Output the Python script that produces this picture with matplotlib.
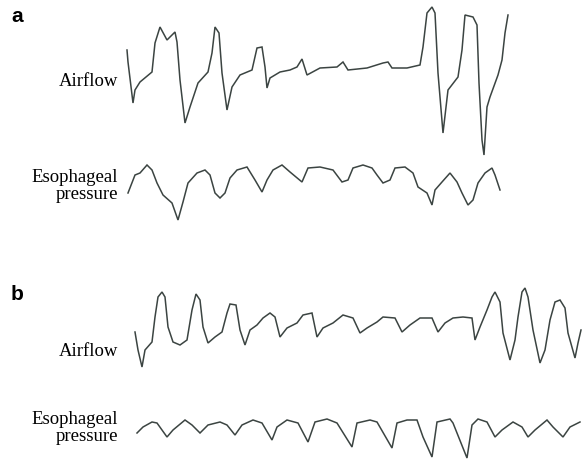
import matplotlib
matplotlib.use("Agg")
import matplotlib.pyplot as plt

# Panel a: airflow trace (time, deflection)
airflow_a_t = [127, 128, 133, 135, 140, 152, 155, 160, 167, 175, 177, 180, 185, 190, 198, 208, 212, 215,
               219, 222, 227, 232, 240, 252, 257, 262, 265, 267, 270, 280, 290, 297, 302, 307, 320,
               337, 343, 348, 367, 383, 388, 392, 407, 420, 423, 427, 432, 435, 438, 443, 448, 458,
               462, 465, 473, 477, 479, 482, 484, 487, 490, 498, 502, 505, 508]
airflow_a_v = [50, 62, 103, 90, 82, 72, 43, 27, 40, 32, 42, 80, 123, 107, 83, 72, 53, 27,
               33, 73, 110, 87, 75, 70, 48, 47, 67, 88, 78, 72, 70, 67, 59, 75, 68,
               67, 62, 70, 68, 63, 62, 68, 68, 65, 47, 13, 7, 13, 73, 133, 90, 77,
               50, 15, 17, 25, 83, 140, 155, 107, 97, 75, 60, 33, 15]

# Panel a: esophageal pressure trace
esoph_a_t = [128, 135, 140, 147, 152, 157, 163, 172, 178, 183, 188, 197, 205, 210, 215, 220, 225,
             230, 237, 247, 255, 262, 267, 273, 282, 290, 302, 308, 320, 333, 342, 348, 353, 363,
             372, 377, 383, 390, 395, 405, 413, 418, 427, 432, 435, 442, 450, 457, 462, 468, 473,
             478, 485, 492, 495, 500]
esoph_a_v = [193, 175, 173, 165, 170, 183, 195, 203, 220, 202, 183, 173, 170, 175, 193, 198, 193,
             178, 170, 167, 180, 192, 180, 170, 165, 172, 182, 168, 167, 170, 182, 180, 168, 165,
             168, 175, 183, 180, 168, 167, 173, 187, 193, 205, 190, 182, 173, 182, 193, 205, 200,
             183, 173, 168, 175, 190]

# Panel b: airflow trace
airflow_b_t = [135, 138, 142, 145, 152, 155, 158, 162, 165, 168, 173, 180, 187, 192, 196, 200, 203,
               208, 215, 222, 227, 230, 236, 240, 245, 250, 257, 263, 270, 275, 280, 287, 297, 303,
               312, 317, 323, 333, 343, 353, 360, 367, 377, 383, 395, 402, 410, 420, 432, 438, 445,
               453, 463, 472, 475, 480, 487, 492, 495, 500, 503, 510, 515, 518, 522, 525, 528, 533,
               540, 545, 550, 555, 560, 565, 568, 575, 578, 581]
airflow_b_v = [332, 350, 367, 350, 342, 317, 297, 292, 297, 327, 342, 345, 340, 310, 294, 300, 327,
               343, 337, 332, 313, 304, 305, 330, 345, 330, 325, 318, 313, 317, 337, 328, 323, 315,
               313, 337, 328, 323, 315, 318, 333, 328, 322, 317, 318, 332, 325, 318, 318, 332, 323,
               318, 317, 318, 340, 327, 310, 297, 292, 302, 333, 360, 340, 317, 292, 288, 297, 330,
               363, 350, 320, 302, 300, 308, 333, 358, 343, 330]

# Panel b: esophageal pressure trace
esoph_b_t = [137, 143, 152, 157, 167, 173, 185, 192, 200, 208, 220, 227, 235, 242, 253, 262, 272,
             277, 287, 298, 308, 315, 327, 337, 352, 357, 370, 377, 392, 397, 407, 417, 423, 432,
             437, 450, 453, 467, 472, 478, 487, 495, 502, 513, 522, 528, 535, 547, 553, 563, 570, 580]
esoph_b_v = [433, 427, 422, 423, 437, 430, 420, 425, 433, 425, 422, 425, 435, 425, 420, 423, 440,
             427, 420, 423, 442, 422, 419, 423, 447, 423, 420, 422, 448, 423, 420, 420, 437, 457,
             422, 419, 423, 458, 425, 419, 422, 437, 430, 422, 427, 437, 430, 420, 427, 437, 427, 422]

panel_labels = ["a", "b"]
trace_labels = ["Airflow", "Esophageal\npressure"]

fig = plt.figure(figsize=(5.85, 4.63), dpi=100)
ax = fig.add_axes([0, 0, 1, 1])
ax.set_xlim(0, 585)
ax.set_ylim(463, 0)
ax.axis("off")

trace_color = "#26302d"
for t, v in [(airflow_a_t, airflow_a_v), (esoph_a_t, esoph_a_v),
             (airflow_b_t, airflow_b_v), (esoph_b_t, esoph_b_v)]:
    ax.plot(t, v, color=trace_color, lw=1.1, solid_joinstyle="miter", alpha=0.9)

serif = ["Liberation Serif", "DejaVu Serif"]
for lab, y in zip(panel_labels, [17, 295]):
    ax.text(11, y, lab, fontsize=15, fontweight="bold", family="Liberation Sans",
            ha="left", va="center")

label_kw = dict(fontsize=13.5, family=serif, ha="right", va="center",
                linespacing=0.95, multialignment="right")
ax.text(118, 82, trace_labels[0], **label_kw)
ax.text(118, 186, trace_labels[1], **label_kw)
ax.text(118, 351, trace_labels[0], **label_kw)
ax.text(118, 428, trace_labels[1], **label_kw)

fig.savefig("out.png", dpi=100)
